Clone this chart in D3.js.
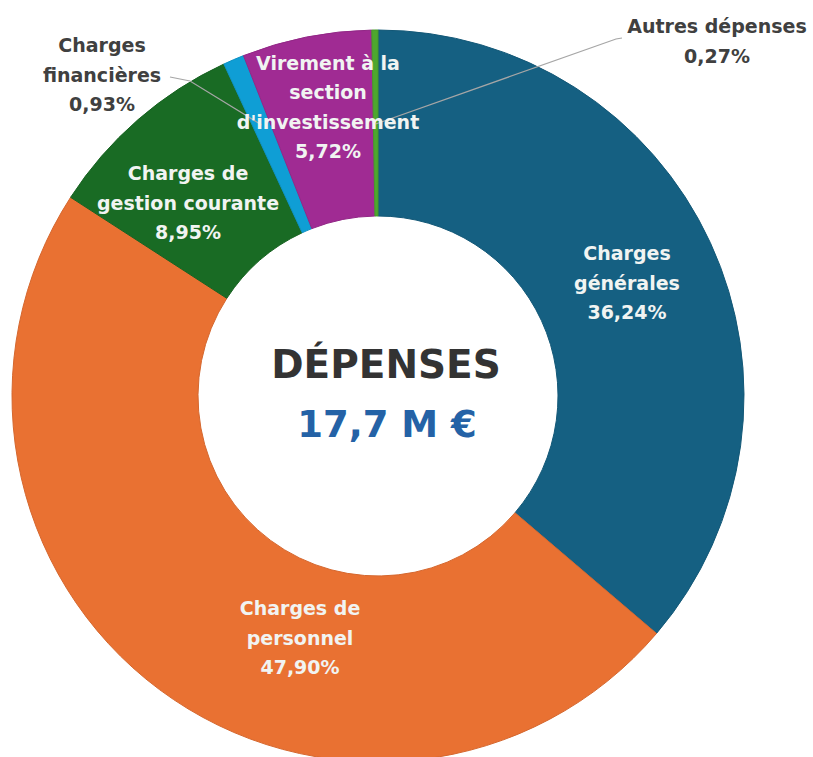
<!DOCTYPE html>
<html>
<head>
<meta charset="utf-8">
<script src="https://cdn.jsdelivr.net/npm/d3@7"></script>
<style>
  html, body { margin: 0; padding: 0; background: #fff; }
  svg { display: block; }
  .lbl { font-family: "DejaVu Sans", sans-serif; font-weight: bold; font-size: 19px; }
</style>
</head>
<body>
<svg id="chart"></svg>
<script>
// data
const categories = ["Charges\ngénérales", "Charges de\npersonnel", "Charges de\ngestion courante",
  "Charges\nfinancières", "Virement à la\nsection\nd'investissement", "Autres dépenses"];
const shares = [36.24, 47.90, 8.95, 0.93, 5.72, 0.27];
const colours = ["#156082", "#E97132", "#196B24", "#0F9ED5", "#A02B93", "#4EA72E"];
const title = "DÉPENSES";
const total = "17,7 M €";

const WIDTH = 813, HEIGHT = 757;
const CX = 378, CY = 396;
const R_OUT = 366, R_IN = 180;
const LINE_H = 29.5;

// where each label sits (relative to the centre) - placed by hand like in the original
const labelSpots = [
  { dx: 249, dy: -113, inside: true },
  { dx: -78, dy: 242, inside: true },
  { dx: -190, dy: -193, inside: true },
  { dx: -276, dy: -321, inside: false, leadR: 295, elbow: [-188, -315], end: [-208, -319] },
  { dx: -50, dy: -289, inside: true },
  { dx: 339, dy: -355, inside: false, leadR: 272, elbow: [238, -357], end: [244, -358] }
];

const fr = d3.formatLocale({ decimal: ",", thousands: " ", grouping: [3], currency: ["", " €"] });
const pct = fr.format(".2f");

const SVG = d3.select('#chart').attr('width', WIDTH).attr('height', HEIGHT);
const g = SVG.append('g').attr('transform', 'translate(' + CX + ',' + CY + ')');

const pie = d3.pie().sort(null).value(d => d).startAngle(0).endAngle(2 * Math.PI);
const arcs = pie(shares);
const arc = d3.arc().innerRadius(R_IN).outerRadius(R_OUT);

g.selectAll('path.slice')
  .data(arcs)
  .enter()
  .append('path')
  .attr('class', 'slice')
  .attr('d', arc)
  .attr('fill', (d, i) => colours[i])
  .attr('stroke', (d, i) => d3.color(colours[i]).darker(0.25))
  .attr('stroke-width', 1);

// leader lines for the two small outside labels
arcs.forEach(function (d, i) {
  const s = labelSpots[i];
  if (s.inside) return;
  const p = d3.arc().innerRadius(s.leadR).outerRadius(s.leadR).centroid(d);
  g.append('polyline')
    .attr('points', [p, s.elbow, s.end].map(q => q.join(',')).join(' '))
    .attr('fill', 'none')
    .attr('stroke', '#a6a6a6')
    .attr('stroke-width', 1.2);
});

// slice labels
arcs.forEach(function (d, i) {
  const s = labelSpots[i];
  const lines = categories[i].split('\n').concat([pct(shares[i]) + '%']);
  const t = g.append('text')
    .attr('class', 'lbl')
    .attr('text-anchor', 'middle')
    .attr('fill', s.inside ? '#f1f4f2' : '#404040');
  lines.forEach(function (ln, k) {
    t.append('tspan')
      .attr('x', s.dx)
      .attr('y', s.dy + (k - (lines.length - 1) / 2) * LINE_H)
      .attr('dy', '0.36em')
      .text(ln);
  });
});

// centre text
g.append('text')
  .attr('x', 8).attr('y', -18)
  .attr('text-anchor', 'middle')
  .style('font-family', '"DejaVu Sans", sans-serif')
  .style('font-weight', 'bold')
  .style('font-size', '39px')
  .attr('fill', '#333333')
  .text(title);
g.append('text')
  .attr('x', 9).attr('y', 41)
  .attr('text-anchor', 'middle')
  .style('font-family', '"DejaVu Sans", sans-serif')
  .style('font-weight', 'bold')
  .style('font-size', '37px')
  .attr('fill', '#2462a6')
  .text(total);
</script>
</body>
</html>
